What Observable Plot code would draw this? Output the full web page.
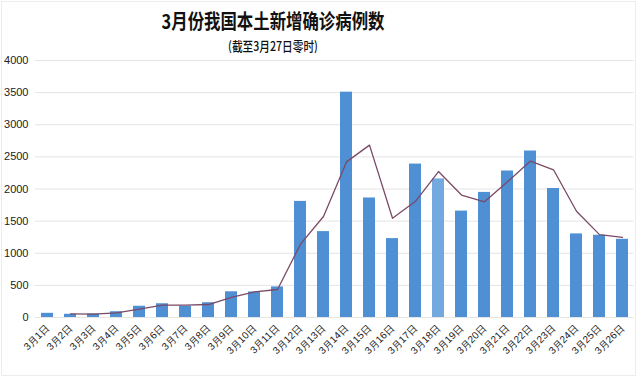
<!DOCTYPE html>
<html>
<head>
<meta charset="utf-8">
<script src="https://cdn.jsdelivr.net/npm/d3@7"></script>
<script src="https://cdn.jsdelivr.net/npm/@observablehq/plot@0.6"></script>
<style>
  html, body { margin: 0; padding: 0; background: #fff; }
  #wrap { position: relative; width: 640px; height: 378px; overflow: hidden; }
  #frame { position: absolute; left: 1px; top: 1px; width: 635px; height: 375px; border: 1px solid #ececec; box-sizing: border-box; pointer-events: none; }
  .title { position: absolute; left: 273px; top: 10px; transform: translateX(-50%) scaleX(0.82); white-space: nowrap;
    font-family: "Noto Sans CJK SC", sans-serif; font-weight: bold; font-size: 20px; line-height: 22px; color: #111; }
  .subtitle { position: absolute; left: 273px; top: 38px; transform: translateX(-50%) scaleX(0.82); white-space: nowrap;
    font-family: "Noto Sans CJK SC", sans-serif; font-weight: 500; font-size: 13px; line-height: 15px; color: #111; }
  svg { position: absolute; left: 0; top: 0; }
</style>
</head>
<body>
<div id="wrap">
  <div class="title">3月份我国本土新增确诊病例数</div>
  <div class="subtitle">(截至3月27日零时)</div>
</div>
<script>
const dates = ["3月1日","3月2日","3月3日","3月4日","3月5日","3月6日","3月7日","3月8日","3月9日","3月10日","3月11日","3月12日","3月13日","3月14日","3月15日","3月16日","3月17日","3月18日","3月19日","3月20日","3月21日","3月22日","3月23日","3月24日","3月25日","3月26日"];
const cases = [65, 50, 55, 90, 175, 214, 175, 230, 400, 397, 476, 1807, 1337, 3507, 1860, 1228, 2388, 2157, 1656, 1947, 2280, 2591, 2008, 1301, 1280, 1217];
const trend = [null, 57, 53, 72, 132, 194, 194, 202, 315, 398, 436, 1141, 1572, 2422, 2683, 1544, 1808, 2272, 1906, 1801, 2113, 2435, 2299, 1654, 1290, 1248];
const highlight = ["3月18日"];
const yTicks = [0, 500, 1000, 1500, 2000, 2500, 3000, 3500, 4000];

const rows = dates.map((d, i) => ({date: d, cases: cases[i], trend: trend[i], light: highlight.includes(d)}));
const lineRows = rows.filter(r => r.trend != null);

const chart = Plot.plot({
  width: 640,
  height: 378,
  marginTop: 60,
  marginBottom: 61,
  marginLeft: 35,
  marginRight: 6.5,
  style: {fontFamily: "'Liberation Sans', Arial, sans-serif", background: "transparent"},
  x: {type: "band", domain: dates, paddingInner: 0.5, paddingOuter: 0.25, label: null},
  y: {domain: [0, 4000], label: null},
  marks: [
    Plot.ruleY(yTicks, {stroke: "#e4e4e4", strokeWidth: 1}),
    Plot.barY(rows, {x: "date", y: "cases", fill: d => d.light ? "#74a9e0" : "#4f8fd4"}),
    Plot.lineY(lineRows, {x: "date", y: "trend", stroke: "#7a4a66", strokeWidth: 1.3}),
    Plot.axisY({ticks: yTicks, tickSize: 0, tickPadding: 7, fontSize: 11, fill: "#222", tickFormat: d => String(d)}),
    Plot.axisX({tickSize: 0, tickPadding: 9, tickRotate: -45, fontSize: 10, fill: "#222", textAnchor: "end"})
  ]
});
document.getElementById("wrap").prepend(chart);
const f = document.createElement("div"); f.id = "frame";
document.getElementById("wrap").appendChild(f);
</script>
</body>
</html>
